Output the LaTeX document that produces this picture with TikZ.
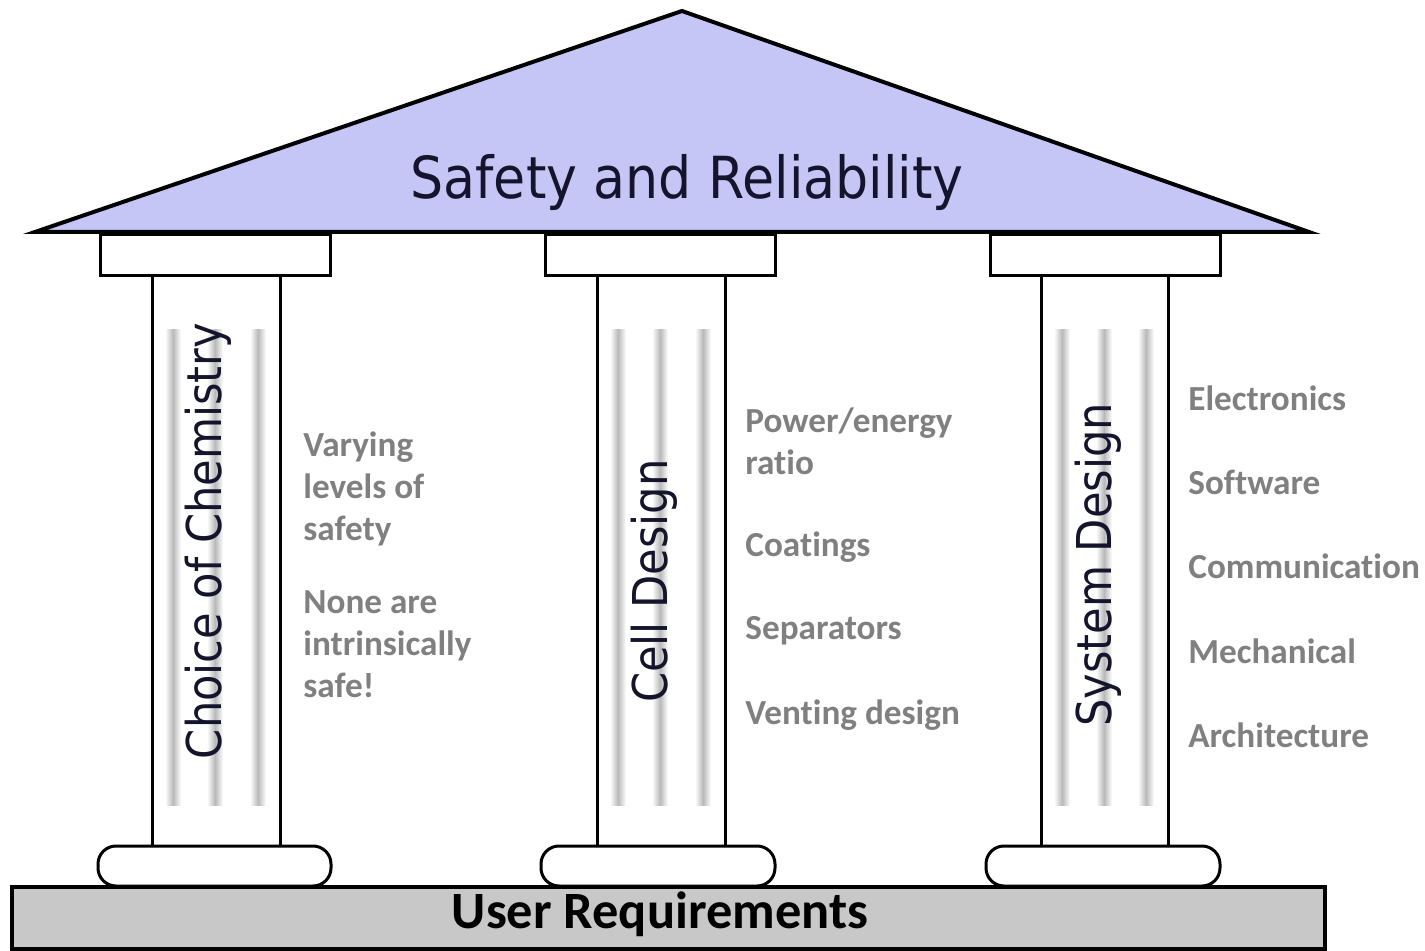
\documentclass[tikz,border=0pt]{standalone}
\usepackage{fontspec}
\setmainfont{Carlito}[Ligatures=NoCommon]
\newfontfamily\rooffont{DejaVu Sans Condensed}
\usetikzlibrary{fadings}
\definecolor{roofblue}{RGB}{198,198,246}
\definecolor{notegray}{RGB}{128,128,128}
\definecolor{basegray}{RGB}{200,200,200}
\definecolor{stripegray}{RGB}{185,185,185}
\definecolor{inkblue}{RGB}{20,20,45}
\tikzset{
  roof/.style={draw=black,line width=2pt,fill=roofblue,line join=miter},
  slab/.style={draw=black,line width=1.5pt,fill=white},
  shaft/.style={draw=black,line width=1.5pt},
  plinth/.style={draw=black,line width=2.2pt,fill=basegray},
  pillartext/.style={inner sep=0pt,rotate=90,text=inkblue,font=\rooffont\fontsize{24}{24}\selectfont},
  note/.style={inner sep=0pt,anchor=west,align=left,text=notegray,font=\bfseries\fontsize{17.6}{21}\selectfont}
}
\begin{document}
\begin{tikzpicture}[x=0.5pt,y=-0.5pt]
\useasboundingbox (0,0) rectangle (1425,951);
% roof
\draw[roof] (35,232) -- (682,11) -- (1309,232) -- cycle;
\node[inner sep=0pt,text=inkblue,font=\rooffont\fontsize{29}{29}\selectfont] (title) at (687,183) {Safety and Reliability};
% capitals
\draw[slab] (100,235) rectangle (330,276);
\draw[slab] (545,235) rectangle (775,276);
\draw[slab] (990,235) rectangle (1220,276);
% shafts
\draw[shaft] (152,276) -- (152,846);
\draw[shaft] (280,276) -- (280,846);
\draw[shaft] (597,276) -- (597,846);
\draw[shaft] (725,276) -- (725,846);
\draw[shaft] (1041,276) -- (1041,846);
\draw[shaft] (1168,276) -- (1168,846);
% stripes
\foreach \sx in {173,215,258,618,660,703,1062,1104,1146}
  \shade[left color=white,right color=white,middle color=stripegray] (\sx-8,330) rectangle (\sx+8,805);
% bases
\draw[slab,rounded corners=9pt] (98,846) rectangle (331,886);
\draw[slab,rounded corners=9pt] (541,846) rectangle (775,886);
\draw[slab,rounded corners=9pt] (986,846) rectangle (1220,886);
% platform
\draw[plinth] (12,887) rectangle (1325,949);
\node[inner sep=0pt,font=\bfseries\fontsize{26.2}{26}\selectfont] (user) at (660,914) {User Requirements};
% pillar labels
\node[pillartext] (chem) at (208,541) {Choice of Chemistry};
\node[pillartext] (cell) at (654,581) {Cell Design};
\node[pillartext] (sys) at (1098,565) {System Design};
% notes
\node[note] (vary) at (303,489) {Varying\\levels of\\safety};
\node[note] (none) at (303,644) {None are\\intrinsically\\safe!};
\node[note] (power) at (745,441) {Power/energy\\ratio};
\node[note] (coat) at (745,547) {Coatings};
\node[note] (sep) at (745,631) {Separators};
\node[note] (vent) at (745,715) {Venting design};
\node[note] (elec) at (1188,398) {Electronics};
\node[note] (soft) at (1188,482) {Software};
\node[note] (comm) at (1188,566) {Communication};
\node[note] (mech) at (1188,651) {Mechanical};
\node[note] (arch) at (1188,735) {Architecture};
\end{tikzpicture}
\end{document}
